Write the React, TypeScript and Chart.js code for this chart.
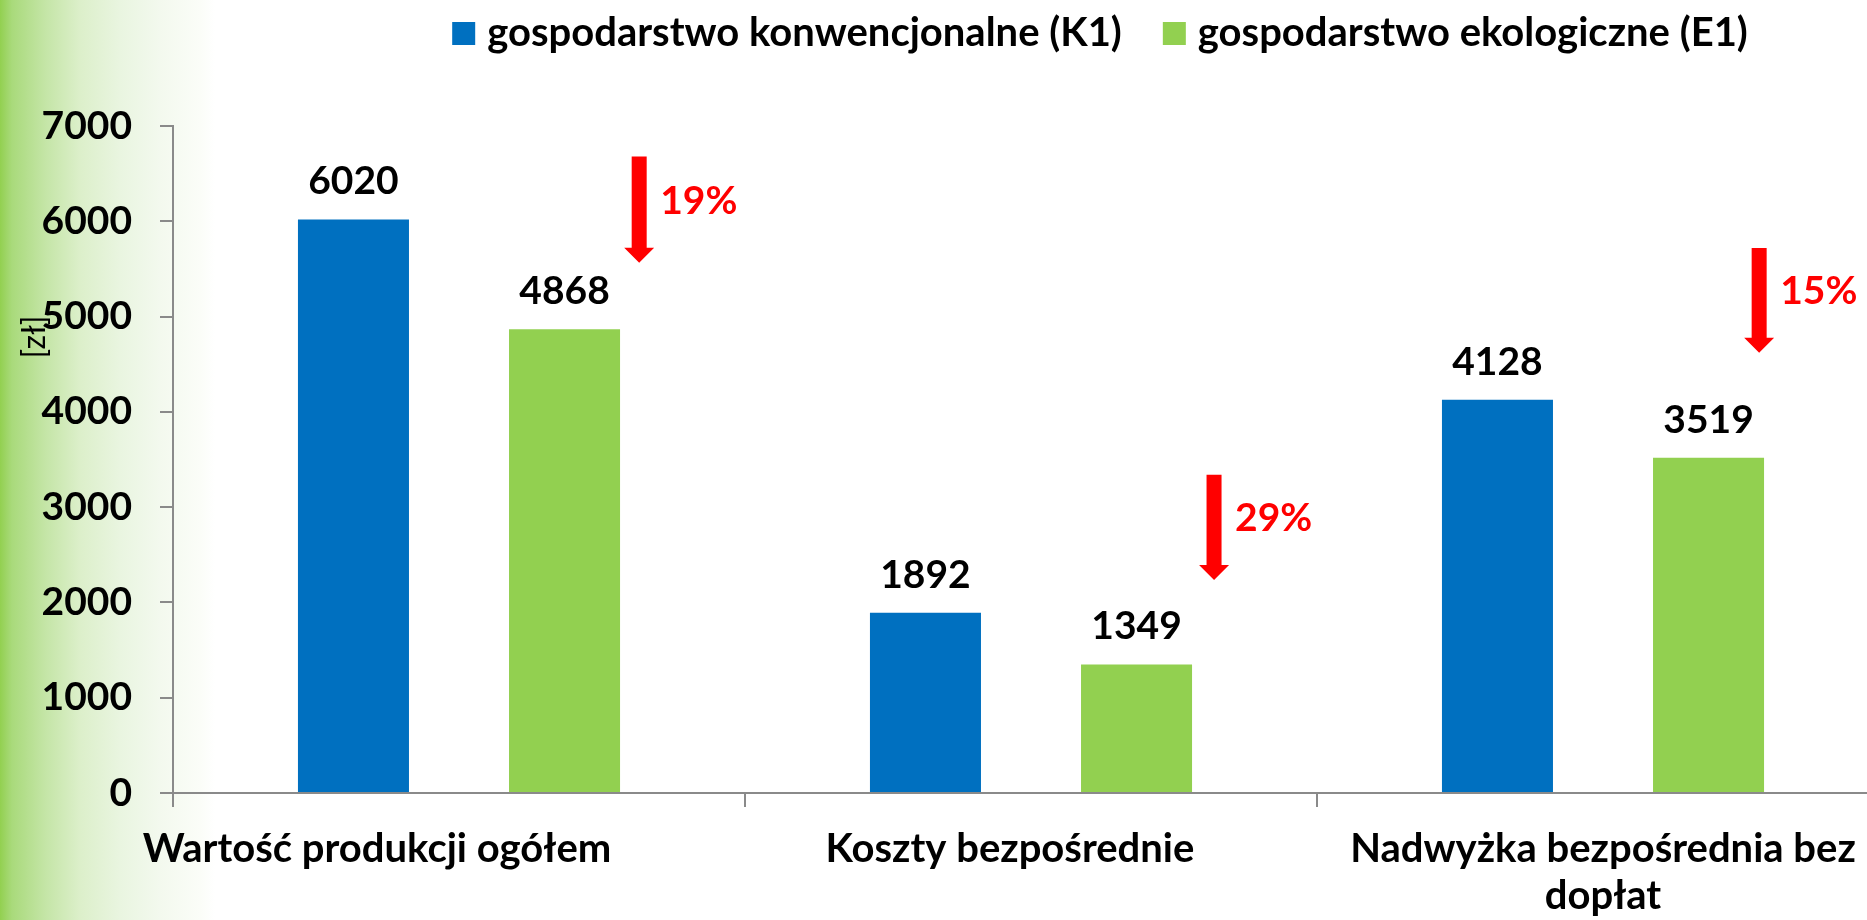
import React, { useEffect, useRef } from "react";
import { Chart, registerables } from "chart.js";

Chart.register(...registerables);

// ---- data ----
const categories: (string | string[])[] = [
  "Wartość produkcji ogółem",
  "Koszty bezpośrednie",
  ["Nadwyżka bezpośrednia bez", "dopłat"],
];
const seriesNames = ["gospodarstwo konwencjonalne (K1)", "gospodarstwo ekologiczne (E1)"];
const conventionalValues = [6020, 1892, 4128];
const organicValues = [4868, 1349, 3519];
const yTickValues = [0, 1000, 2000, 3000, 4000, 5000, 6000, 7000];
const yAxisTitle = "[zł]";
// red "decrease" arrows: start and end value on the y axis
const arrowTopValues = [6680, 3340, 5720];
const arrowTipValues = [5565, 2236, 4620];

// ---- style ----
const BLUE = "#0070C0";
const GREEN = "#92D050";
const RED = "#FF0000";
const AXIS = "#8a8a8a";
const FONT = "Lato, 'Open Sans', sans-serif";
const NUM_SIZE = 39;
const TEXT_SIZE = 40;
const arrowOffsetFractions = [0.315, 0.32, 0.273];
const labelShifts = [-82, -21, 0];

const overlayPlugin = {
  id: "overlay",
  afterDraw(chart: any) {
    const ctx: CanvasRenderingContext2D = chart.ctx;
    const xs = chart.scales.x;
    const ys = chart.scales.y;
    const area = chart.chartArea;
    ctx.save();

    // value labels above bars
    ctx.font = `bold ${NUM_SIZE}px ${FONT}`;
    ctx.fillStyle = "#000";
    ctx.textAlign = "center";
    ctx.textBaseline = "alphabetic";
    chart.data.datasets.forEach((ds: any, di: number) => {
      chart.getDatasetMeta(di).data.forEach((bar: any, i: number) => {
        ctx.fillText(String(ds.data[i]), bar.x, bar.y - 25);
      });
    });

    // arrows and percentage decrease
    const catW = (xs.right - xs.left) / categories.length;
    categories.forEach((_, i) => {
      const cx = xs.getPixelForValue(i) + arrowOffsetFractions[i] * catW;
      const top = ys.getPixelForValue(arrowTopValues[i]);
      const tip = ys.getPixelForValue(arrowTipValues[i]);
      const sw = 7.5;
      const hw = 15;
      const hh = 15;
      ctx.fillStyle = RED;
      ctx.beginPath();
      ctx.moveTo(cx - sw, top);
      ctx.lineTo(cx + sw, top);
      ctx.lineTo(cx + sw, tip - hh);
      ctx.lineTo(cx + hw, tip - hh);
      ctx.lineTo(cx, tip);
      ctx.lineTo(cx - hw, tip - hh);
      ctx.lineTo(cx - sw, tip - hh);
      ctx.closePath();
      ctx.fill();
      const pct = Math.round((1 - organicValues[i] / conventionalValues[i]) * 100);
      ctx.font = `bold ${NUM_SIZE}px ${FONT}`;
      ctx.textAlign = "left";
      ctx.textBaseline = "alphabetic";
      ctx.fillText(`${pct}%`, cx + 21, (top + tip) / 2 + 4);
    });

    // category labels
    ctx.fillStyle = "#000";
    ctx.font = `bold ${TEXT_SIZE}px ${FONT}`;
    ctx.textAlign = "center";
    ctx.textBaseline = "alphabetic";
    categories.forEach((lab, i) => {
      const lines = Array.isArray(lab) ? lab : [lab];
      const x = xs.getPixelForValue(i) + labelShifts[i];
      lines.forEach((ln, k) => {
        ctx.fillText(ln, x, area.bottom + 69 + k * 47);
      });
    });

    // legend
    ctx.font = `bold ${TEXT_SIZE}px ${FONT}`;
    const box = 23;
    const boxGap = 12;
    const itemGap = 41;
    const colors = [BLUE, GREEN];
    const widths = seriesNames.map((n) => ctx.measureText(n).width);
    const total = widths.reduce((a, w) => a + box + boxGap + w, 0) + itemGap * (seriesNames.length - 1);
    let lx = 1100 - total / 2;
    seriesNames.forEach((n, i) => {
      ctx.fillStyle = colors[i];
      ctx.fillRect(lx, 22, box, box);
      ctx.fillStyle = "#000";
      ctx.textAlign = "left";
      ctx.fillText(n, lx + box + boxGap, 46);
      lx += box + boxGap + widths[i] + itemGap;
    });

    // y axis title
    ctx.translate(35, 337);
    ctx.rotate(-Math.PI / 2);
    ctx.font = `32px ${FONT}`;
    ctx.textAlign = "center";
    ctx.textBaseline = "middle";
    ctx.fillStyle = "#000";
    ctx.fillText(yAxisTitle, 0, 0);

    ctx.restore();
  },
};

export default function App() {
  const ref = useRef<HTMLCanvasElement>(null);

  useEffect(() => {
    if (!ref.current) return;
    const chart = new Chart(ref.current, {
      type: "bar",
      data: {
        labels: categories as any,
        datasets: [
          {
            label: seriesNames[0],
            data: conventionalValues,
            backgroundColor: BLUE,
            borderWidth: 0,
            barPercentage: 0.526,
            categoryPercentage: 0.738,
          },
          {
            label: seriesNames[1],
            data: organicValues,
            backgroundColor: GREEN,
            borderWidth: 0,
            barPercentage: 0.526,
            categoryPercentage: 0.738,
          },
        ],
      },
      options: {
        responsive: false,
        animation: false,
        layout: { padding: { top: 126, right: 11, left: 0, bottom: 0 } },
        plugins: {
          legend: { display: false },
          tooltip: { enabled: false },
        },
        scales: {
          x: {
            grid: {
              drawOnChartArea: false,
              drawTicks: true,
              tickLength: 14,
              color: AXIS,
              lineWidth: 2,
              offset: true,
            },
            border: { color: AXIS, width: 2 },
            ticks: { display: false },
            afterFit: (s: any) => {
              s.height = 127;
            },
          },
          y: {
            min: yTickValues[0],
            max: yTickValues[yTickValues.length - 1],
            afterBuildTicks: (s: any) => {
              s.ticks = yTickValues.map((v) => ({ value: v }));
            },
            ticks: {
              color: "#000",
              padding: 28,
              font: { family: FONT, size: NUM_SIZE, weight: "bold" },
              callback: (v: any) => String(v),
            },
            grid: {
              drawOnChartArea: false,
              tickLength: 13,
              color: AXIS,
              lineWidth: 2,
            },
            border: { color: AXIS, width: 2 },
            afterFit: (s: any) => {
              s.width = 173;
            },
          },
        },
      },
      plugins: [overlayPlugin],
    });
    return () => chart.destroy();
  }, []);

  return (
    <div
      style={{
        position: "fixed",
        left: 0,
        top: 0,
        width: 1867,
        height: 920,
        overflow: "hidden",
        background:
          "linear-gradient(to right, #92d050 0px, #a9da7b 12px, #c4e5a6 45px, #dcefca 80px, #e9f5e0 120px, #f3f9ee 160px, #fbfdf8 200px, #ffffff 215px)",
      }}
    >
      <canvas ref={ref} width={1900} height={920} style={{ display: "block" }} />
    </div>
  );
}
